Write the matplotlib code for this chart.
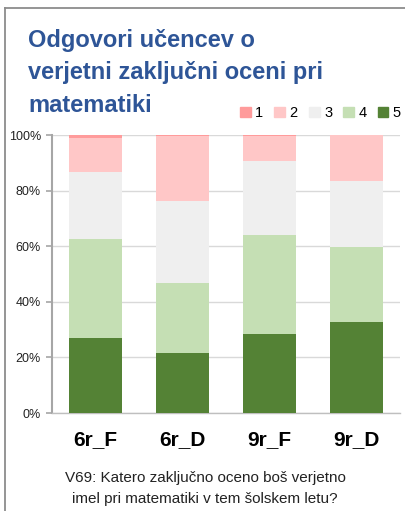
"""Stacked bars: pupils' expected final grade in mathematics."""

from matplotlib import pyplot
import numpy

# Categories and shares (in %) of each grade.
groups = ['6r_F', '6r_D', '9r_F', '9r_D']
grades = ['1', '2', '3', '4', '5']
grade_5 = [27.1, 21.7, 28.5, 32.7]
grade_4 = [35.5, 25.1, 35.5, 27.0]
grade_3 = [24.2, 29.5, 26.6, 23.8]
grade_2 = [12.2, 23.2, 8.9, 16.5]
grade_1 = [1.0, 0.5, 0.5, 0.0]
yticks = [0, 20, 40, 60, 80, 100]
title_lines = ['Odgovori učencev o', 'verjetni zaključni oceni pri',
               'matematiki']
caption_lines = ['V69: Katero zaključno oceno boš verjetno',
                 'imel pri matematiki v tem šolskem letu?']

colors = {'1': '#FF9B9B', '2': '#FFC7C7', '3': '#EFEFEF',
          '4': '#C5DFB4', '5': '#548235'}

pyplot.rc('font', family=['Liberation Sans', 'DejaVu Sans'])

W, H = 405, 511
fig = pyplot.figure(figsize=(W / 100, H / 100), dpi=100)

# Outer frame (left and top edges are visible).
fig.add_artist(pyplot.Line2D([5 / W, 5 / W], [0, 1 - 8.5 / H],
                             color='#8C8C8C', lw=1.3))
fig.add_artist(pyplot.Line2D([5 / W, 1], [1 - 8.5 / H, 1 - 8.5 / H],
                             color='#8C8C8C', lw=1.3))

ax = fig.add_axes([52 / W, (H - 413) / H, 348 / W, 278 / H])
x = numpy.arange(len(groups))
stack = [('5', grade_5), ('4', grade_4), ('3', grade_3),
         ('2', grade_2), ('1', grade_1)]
bottom = numpy.zeros(len(groups))
for grade, vals in stack:
    ax.bar(x, vals, width=0.61, bottom=bottom, color=colors[grade],
           zorder=3)
    bottom += numpy.array(vals)

ax.set_xlim(-0.5, len(groups) - 0.5)
ax.set_ylim(0, 100)
ax.set_yticks(yticks)
ax.set_yticklabels([f'{v}%' for v in yticks], fontsize=9, color='#222222')
ax.yaxis.grid(True, color='#D9D9D9', lw=1.0, zorder=0)
ax.tick_params(axis='y', length=4, color='#A6A6A6', width=1.2, pad=4)
ax.set_xticks(x)
ax.set_xticklabels(groups, fontsize=15, fontweight='bold')
ax.tick_params(axis='x', length=0, pad=12)
for side in ('top', 'right'):
    ax.spines[side].set_visible(False)
ax.spines['left'].set_color('#A6A6A6')
ax.spines['left'].set_linewidth(1.5)
ax.spines['bottom'].set_color('#BFBFBF')
ax.spines['bottom'].set_linewidth(1.0)

# Title, one line at a time.
for i, line in enumerate(title_lines):
    fig.text(28 / W, 1 - (47 + 32.5 * i) / H, line, ha='left',
             va='baseline', fontsize=17, fontweight='bold', color='#2E5597')

# Legend.
handles = [pyplot.Rectangle((0, 0), 1, 1, color=colors[g]) for g in grades]
fig.legend(handles, grades, loc='center left',
           bbox_to_anchor=(240 / W, 1 - 113 / H), ncol=5, frameon=False,
           handlelength=0.75, handleheight=0.75, handletextpad=0.3,
           columnspacing=0.75, borderpad=0, borderaxespad=0,
           prop={'size': 10.5})

# Question caption.
for i, line in enumerate(caption_lines):
    fig.text(205 / W, 1 - (478 + 21 * i) / H, line, ha='center',
             va='center', fontsize=11, color='#222222')

fig.savefig('out.png', dpi=100)
